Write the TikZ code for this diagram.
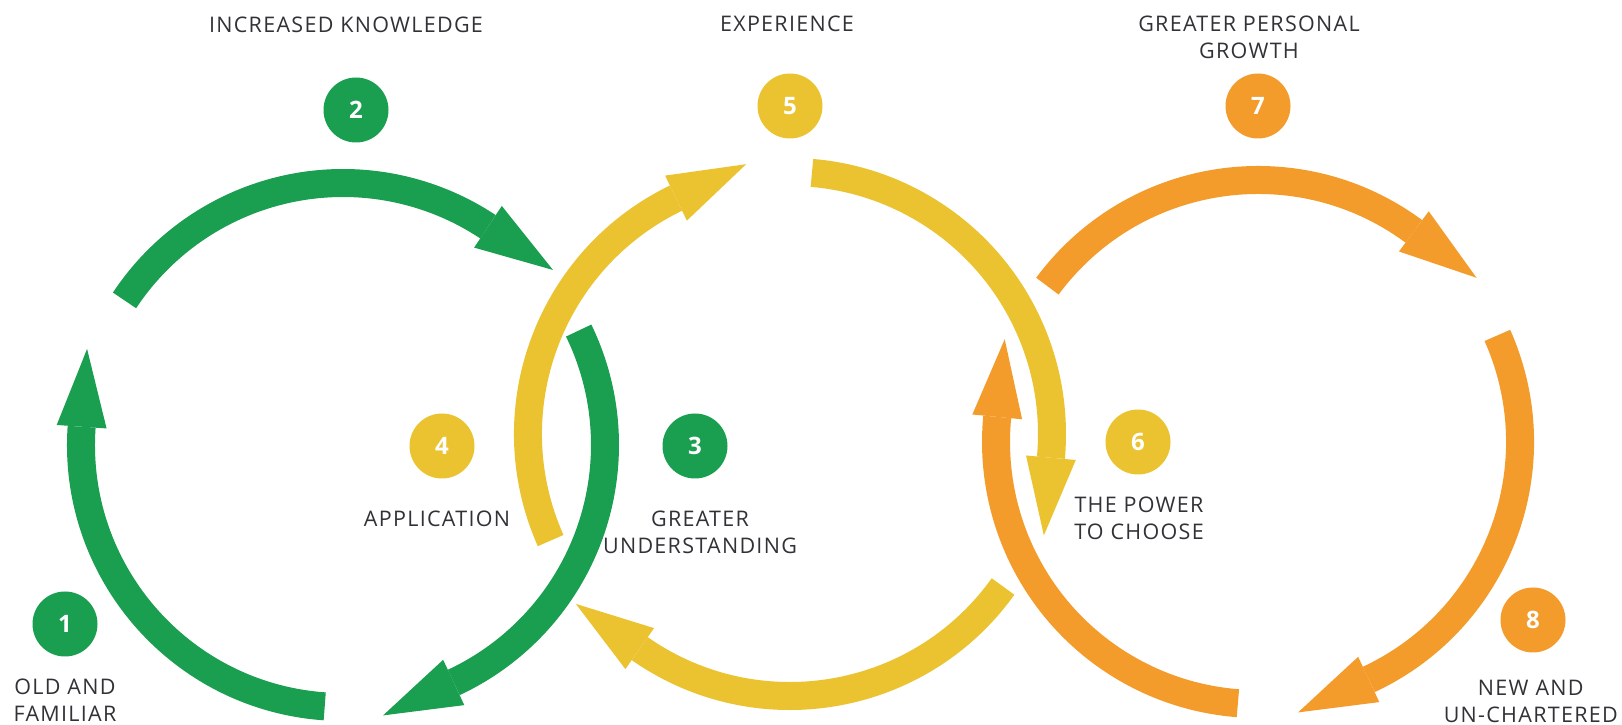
\documentclass[tikz,border=0pt]{standalone}
\usepackage{fontspec}
\setmainfont{Open Sans}[LetterSpace=6]
\definecolor{LeafGreen}{RGB}{26,158,80}
\definecolor{SunYellow}{RGB}{235,195,48}
\definecolor{AmberOrange}{RGB}{243,156,44}
\definecolor{CaptionGray}{RGB}{48,50,54}
% one arc of a ring, with its head at the end angle
\newcommand{\ringarrow}[4]{%
  \begin{scope}[shift={(#2)}]
    \draw[#1,line width=28pt] (#3:262pt) arc[start angle=#3,end angle=#4,radius=262pt];
    \fill[#1,rotate=#4] (237pt,0pt) -- (287pt,0pt) -- (262pt,-78pt) -- cycle;
  \end{scope}}

\begin{document}
\begin{tikzpicture}[x=1pt,y=1pt,
  numdot/.style={circle,minimum size=65pt,inner sep=0pt,text=white,font=\fontsize{24}{24}\selectfont\bfseries},
  caption/.style={text=CaptionGray,align=center,font=\fontsize{21.5}{27}\selectfont}]
\useasboundingbox (0,0) rectangle (1622,725);
\coordinate (gc) at (343,280);
\coordinate (yc) at (790,291);
\coordinate (oc) at (1258,283);
% green ring
\ringarrow{LeafGreen}{gc}{266}{176}
\ringarrow{LeafGreen}{gc}{146.5}{56.4}
\ringarrow{LeafGreen}{gc}{25.9}{-65}
% yellow ring
\ringarrow{SunYellow}{yc}{204}{115.8}
\ringarrow{SunYellow}{yc}{85.2}{-5.2}
\ringarrow{SunYellow}{yc}{324.4}{235}
% orange ring
\ringarrow{AmberOrange}{oc}{265.6}{174.5}
\ringarrow{AmberOrange}{oc}{143.5}{53.5}
\ringarrow{AmberOrange}{oc}{24}{-65}
% numbered steps
\foreach \num/\col/\x/\y in {1/LeafGreen/65/101,2/LeafGreen/356/615,3/LeafGreen/695/279,
  4/SunYellow/442/279,5/SunYellow/790/619,6/SunYellow/1138/283,
  7/AmberOrange/1258/619,8/AmberOrange/1533/105}
  \node[numdot,fill=\col] (n\num) at (\x,\y) {\num};
% captions
\node[caption] (t1) at (65,25) {OLD AND\\FAMILIAR};
\node[caption] (t2) at (346,700) {INCREASED KNOWLEDGE};
\node[caption] (t3) at (700,192.5) {GREATER\\UNDERSTANDING};
\node[caption] (t4) at (437,206) {APPLICATION};
\node[caption] (t5) at (787,701) {EXPERIENCE};
\node[caption] (t6) at (1139,206.5) {THE POWER\\TO CHOOSE};
\node[caption] (t7) at (1249,687.5) {GREATER PERSONAL\\GROWTH};
\node[caption,anchor=east,inner sep=0pt] (t8) at (1618,24) {NEW AND\\UN-CHARTERED};
\end{tikzpicture}
\end{document}
